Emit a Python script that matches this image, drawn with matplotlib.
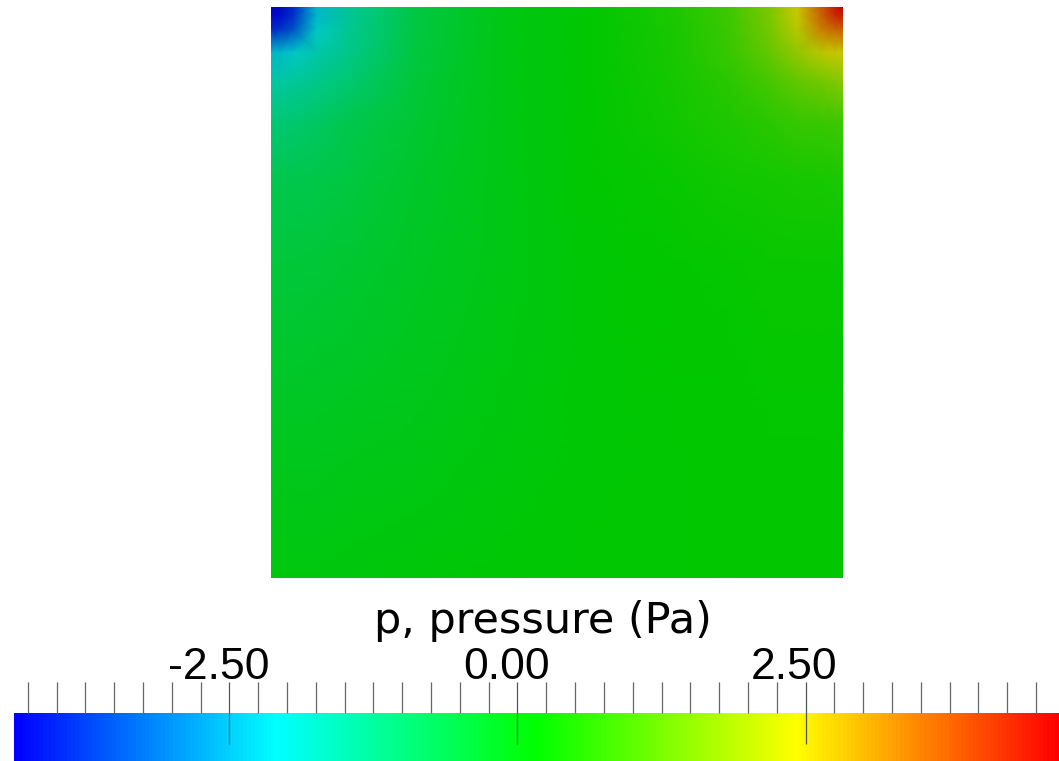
import numpy as np
import matplotlib
matplotlib.use("Agg")
from matplotlib import pyplot as plt
from matplotlib.colors import LinearSegmentedColormap, Normalize
from matplotlib.colorbar import ColorbarBase
from matplotlib.transforms import ScaledTranslation

# pressure range and colour bar ticks
p_min, p_max = -4.37, 4.70
major_ticks = [-2.5, 0.0, 2.5]
major_labels = ["-2.50", "0.00", "2.50"]
minor_step = 0.25

# sample locations in the unit cavity (x from the left wall, y from the top lid down)
xs = [0.0, 0.015, 0.04, 0.08, 0.14, 0.25, 0.4, 0.55, 0.7, 0.8, 0.87, 0.92, 0.96, 0.985, 1.0]
ys = [1.0, 0.985, 0.96, 0.92, 0.87, 0.8, 0.7, 0.55, 0.4, 0.2, 0.0]

# pressure (Pa) at those samples, one row per y
p = np.array([
    [-4.37, -4.25, -3.85, -2.30, -1.50, -0.60, -0.05, 0.15, 0.45, 0.85, 1.55, 2.45, 3.60, 4.35, 4.70],
    [-4.25, -4.20, -3.80, -2.27, -1.49, -0.60, -0.05, 0.15, 0.45, 0.85, 1.54, 2.42, 3.52, 4.17, 4.35],
    [-3.85, -3.80, -3.40, -2.07, -1.45, -0.59, -0.05, 0.15, 0.44, 0.83, 1.45, 2.22, 3.20, 3.52, 3.60],
    [-2.30, -2.27, -2.07, -1.75, -1.33, -0.57, -0.05, 0.15, 0.43, 0.77, 1.27, 1.80, 2.22, 2.42, 2.45],
    [-1.70, -1.68, -1.60, -1.42, -1.10, -0.50, -0.05, 0.15, 0.40, 0.65, 0.97, 1.27, 1.45, 1.65, 1.70],
    [-1.15, -1.13, -1.08, -0.95, -0.70, -0.42, -0.05, 0.15, 0.35, 0.50, 0.65, 0.77, 0.83, 0.85, 0.85],
    [-0.75, -0.74, -0.72, -0.68, -0.55, -0.32, -0.05, 0.15, 0.27, 0.35, 0.40, 0.43, 0.44, 0.45, 0.45],
    [-0.50, -0.50, -0.48, -0.45, -0.40, -0.25, -0.05, 0.12, 0.20, 0.22, 0.24, 0.25, 0.25, 0.25, 0.25],
    [-0.35, -0.35, -0.34, -0.32, -0.28, -0.18, -0.03, 0.10, 0.17, 0.20, 0.21, 0.22, 0.22, 0.22, 0.22],
    [-0.15, -0.15, -0.14, -0.13, -0.10, -0.05, 0.03, 0.10, 0.15, 0.18, 0.19, 0.20, 0.20, 0.20, 0.20],
    [0.00, 0.00, 0.00, 0.02, 0.04, 0.07, 0.10, 0.13, 0.15, 0.17, 0.18, 0.19, 0.20, 0.20, 0.20],
])

rainbow = ["#0000ff", "#00ffff", "#00ff00", "#ffff00", "#ff0000"]
cmap = LinearSegmentedColormap.from_list("rainbow", rainbow)
# the surface is lit, so it renders a bit darker than the bar
lit = [tuple(0.78 * c for c in matplotlib.colors.to_rgb(h)) for h in rainbow]
cmap_lit = LinearSegmentedColormap.from_list("rainbow_lit", lit)
norm = Normalize(vmin=p_min, vmax=p_max)

W, H = 1059, 761
fig = plt.figure(figsize=(W / 100, H / 100), dpi=100)

ax = fig.add_axes([271 / W, (H - 578) / H, 572 / W, 571 / H])
X, Y = np.meshgrid(xs, ys)
ax.pcolormesh(X, Y, p, cmap=cmap_lit, norm=norm, shading="gouraud")
ax.set_xlim(0, 1)
ax.set_ylim(0, 1)
ax.set_axis_off()

cax = fig.add_axes([14 / W, 0.0, 1045 / W, 48 / H])
cb = ColorbarBase(cax, cmap=cmap, norm=norm, orientation="horizontal")
cb.outline.set_visible(False)
cax.xaxis.set_ticks_position("top")
cax.set_xticks(major_ticks)
cax.set_xticklabels([])
minor = np.arange(np.ceil(p_min / minor_step) * minor_step, p_max, minor_step)
cax.set_xticks([m for m in minor if not np.isclose(m % 2.5, 0) and not np.isclose(m % 2.5, 2.5)], minor=True)
cax.tick_params(axis="x", which="major", direction="inout", length=44.6, width=0.9, color="#555555")
cax.tick_params(axis="x", which="minor", direction="out", length=22.3, width=0.9, color="#666666")

# value labels sit a little left of their tick, baseline just above the ticks
shift = ScaledTranslation(-11 / 100, 0, fig.dpi_scale_trans)
for v, lab in zip(major_ticks, major_labels):
    cax.text(v, (H - 679 - (H - 761)) / 48, lab, transform=cax.get_xaxis_transform() + shift,
             ha="center", va="baseline", fontsize=32, family="Liberation Sans", color="black")

fig.text(543 / W, (H - 633) / H, "p, pressure (Pa)", ha="center", va="baseline",
         fontsize=31, family="DejaVu Sans", color="black")

fig.savefig("out.png", dpi=100, facecolor="white")
